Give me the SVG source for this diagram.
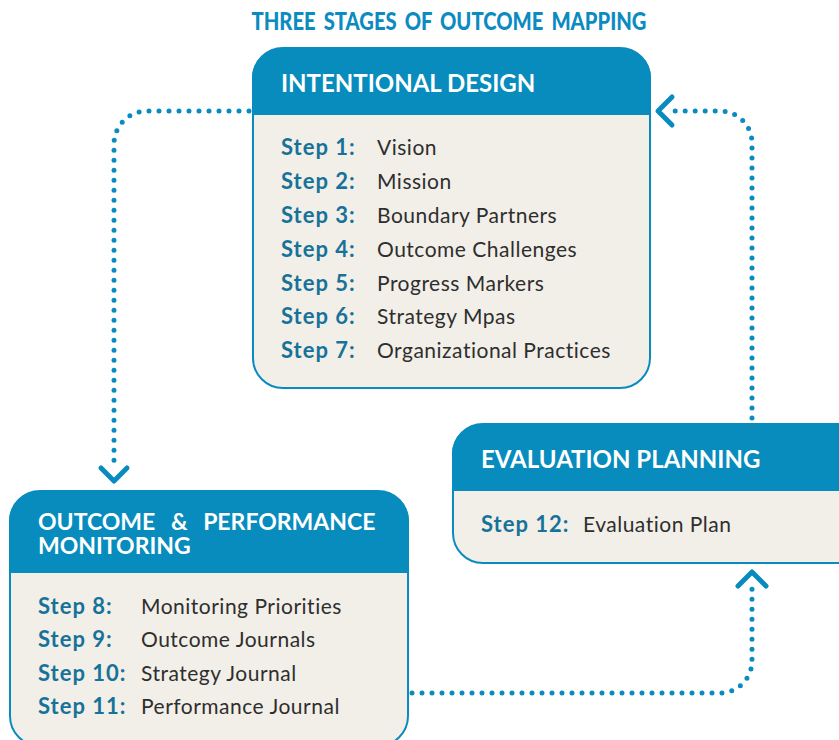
<svg xmlns="http://www.w3.org/2000/svg" width="839" height="740" viewBox="0 0 839 740">
<defs>
<style>
.title{font-family:Lato,"Liberation Sans",sans-serif;font-weight:900;font-size:25px;fill:#0b8bbf;word-spacing:4px}
.hdr{font-family:Lato,"Liberation Sans",sans-serif;font-weight:700;font-size:24px;fill:#ffffff}
.hdr2{font-family:Lato,"Liberation Sans",sans-serif;font-weight:700;font-size:23px;fill:#ffffff}
.stp{font-family:Lato,"Liberation Sans",sans-serif;font-weight:700;font-size:22px;fill:#17729a;letter-spacing:1px}
.txt{font-family:Lato,"Liberation Sans",sans-serif;font-weight:400;font-size:21px;fill:#2e2e2e;letter-spacing:0.5px}
.body{fill:#f2efe8;stroke:#0a8bbf;stroke-width:2}
.head{fill:#078cbd}
.dot{fill:none;stroke:#0a8bc0;stroke-width:5;stroke-linecap:round;stroke-dasharray:0 10}
.chev{fill:none;stroke:#0a8bc0;stroke-width:5;stroke-linecap:round;stroke-linejoin:round}
</style>
</defs>
<rect width="839" height="740" fill="#ffffff"/>
<text class="title" x="449" y="30" text-anchor="middle" textLength="395" lengthAdjust="spacingAndGlyphs">THREE STAGES OF OUTCOME MAPPING</text>

<g id="connectors">
<path class="dot" d="M249 111 H147 A33 33 0 0 0 114 144 V462"/>
<polyline class="chev" points="101,468 114,481 127,468"/>
<path class="dot" d="M752 418 V143 A32 32 0 0 0 720 111 H670"/>
<polyline class="chev" points="672,97 658,111 672,125"/>
<path class="dot" d="M412 693 H720 A32 32 0 0 0 752 661 V588"/>
<polyline class="chev" points="738,586 752,572 766,586"/>
</g>

<g id="intentional-design">
<rect class="body" x="253" y="48" width="397" height="340" rx="30"/>
<path class="head" d="M252 115 V78 A30 30 0 0 1 282 48 H621 A30 30 0 0 1 651 78 V115 Z"/>
<text class="hdr" x="281" y="92">INTENTIONAL DESIGN</text>
<text class="stp" x="281" y="155">Step 1:</text><text class="txt" x="377" y="155">Vision</text>
<text class="stp" x="281" y="189">Step 2:</text><text class="txt" x="377" y="189">Mission</text>
<text class="stp" x="281" y="223">Step 3:</text><text class="txt" x="377" y="223">Boundary Partners</text>
<text class="stp" x="281" y="257">Step 4:</text><text class="txt" x="377" y="257">Outcome Challenges</text>
<text class="stp" x="281" y="291">Step 5:</text><text class="txt" x="377" y="291">Progress Markers</text>
<text class="stp" x="281" y="324">Step 6:</text><text class="txt" x="377" y="324">Strategy Mpas</text>
<text class="stp" x="281" y="358">Step 7:</text><text class="txt" x="377" y="358">Organizational Practices</text>
</g>

<g id="outcome-performance-monitoring">
<rect class="body" x="10" y="491" width="398" height="255" rx="30"/>
<path class="head" d="M9 573 V521 A30 30 0 0 1 39 491 H379 A30 30 0 0 1 409 521 V573 Z"/>
<text class="hdr2" x="38" y="530" word-spacing="10">OUTCOME &amp; PERFORMANCE</text>
<text class="hdr2" x="38" y="554">MONITORING</text>
<text class="stp" x="38" y="614">Step 8:</text><text class="txt" x="141" y="614">Monitoring Priorities</text>
<text class="stp" x="38" y="647">Step 9:</text><text class="txt" x="141" y="647">Outcome Journals</text>
<text class="stp" x="38" y="681">Step 10:</text><text class="txt" x="141" y="681">Strategy Journal</text>
<text class="stp" x="38" y="714">Step 11:</text><text class="txt" x="141" y="714">Performance Journal</text>
</g>

<g id="evaluation-planning">
<rect class="body" x="453" y="424" width="420" height="139" rx="30"/>
<path class="head" d="M452 491 V454 A30 30 0 0 1 482 424 H845 A30 30 0 0 1 874 454 V491 Z"/>
<text class="hdr" x="481" y="468">EVALUATION PLANNING</text>
<text class="stp" x="481" y="532">Step 12:</text><text class="txt" x="583" y="532">Evaluation Plan</text>
</g>
</svg>
